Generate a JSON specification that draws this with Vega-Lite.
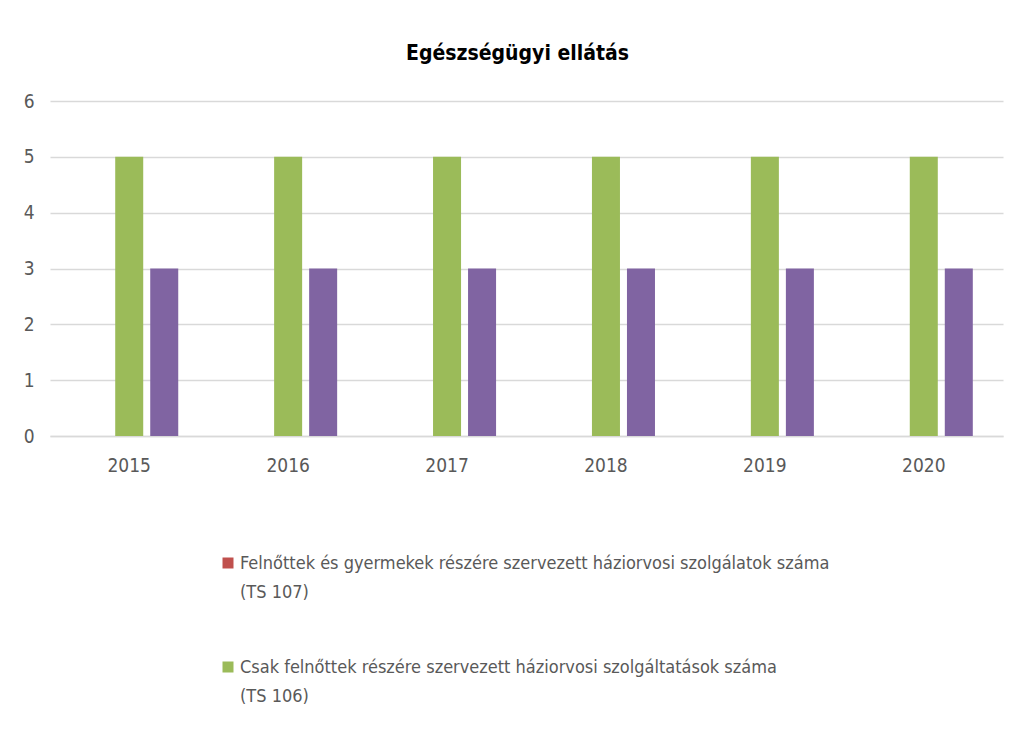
{
  "$schema": "https://vega.github.io/schema/vega-lite/v6.json",
  "autosize": {"type": "none"},
  "width": 953,
  "height": 335,
  "padding": {"left": 50, "top": 101, "right": 16, "bottom": 320},
  "background": "white",
  "title": {
    "text": "Egészségügyi ellátás",
    "font": "DejaVu Sans Condensed, Liberation Sans Narrow, sans-serif",
    "fontSize": 21,
    "fontWeight": "bold",
    "color": "#000000",
    "anchor": "middle",
    "offset": 28,
    "dx": -9
  },
  "data": {
    "values": [
      {"ev": "2015", "sorozat": "Felnőttek és gyermekek részére szervezett háziorvosi szolgálatok száma (TS 107)", "ertek": 0},
      {"ev": "2015", "sorozat": "Csak felnőttek részére szervezett háziorvosi szolgáltatások száma (TS 106)", "ertek": 5},
      {"ev": "2015", "sorozat": "Házi gyermekorvosi szolgálatok száma (TS 108)", "ertek": 3},
      {"ev": "2016", "sorozat": "Felnőttek és gyermekek részére szervezett háziorvosi szolgálatok száma (TS 107)", "ertek": 0},
      {"ev": "2016", "sorozat": "Csak felnőttek részére szervezett háziorvosi szolgáltatások száma (TS 106)", "ertek": 5},
      {"ev": "2016", "sorozat": "Házi gyermekorvosi szolgálatok száma (TS 108)", "ertek": 3},
      {"ev": "2017", "sorozat": "Felnőttek és gyermekek részére szervezett háziorvosi szolgálatok száma (TS 107)", "ertek": 0},
      {"ev": "2017", "sorozat": "Csak felnőttek részére szervezett háziorvosi szolgáltatások száma (TS 106)", "ertek": 5},
      {"ev": "2017", "sorozat": "Házi gyermekorvosi szolgálatok száma (TS 108)", "ertek": 3},
      {"ev": "2018", "sorozat": "Felnőttek és gyermekek részére szervezett háziorvosi szolgálatok száma (TS 107)", "ertek": 0},
      {"ev": "2018", "sorozat": "Csak felnőttek részére szervezett háziorvosi szolgáltatások száma (TS 106)", "ertek": 5},
      {"ev": "2018", "sorozat": "Házi gyermekorvosi szolgálatok száma (TS 108)", "ertek": 3},
      {"ev": "2019", "sorozat": "Felnőttek és gyermekek részére szervezett háziorvosi szolgálatok száma (TS 107)", "ertek": 0},
      {"ev": "2019", "sorozat": "Csak felnőttek részére szervezett háziorvosi szolgáltatások száma (TS 106)", "ertek": 5},
      {"ev": "2019", "sorozat": "Házi gyermekorvosi szolgálatok száma (TS 108)", "ertek": 3},
      {"ev": "2020", "sorozat": "Felnőttek és gyermekek részére szervezett háziorvosi szolgálatok száma (TS 107)", "ertek": 0},
      {"ev": "2020", "sorozat": "Csak felnőttek részére szervezett háziorvosi szolgáltatások száma (TS 106)", "ertek": 5},
      {"ev": "2020", "sorozat": "Házi gyermekorvosi szolgálatok száma (TS 108)", "ertek": 3}
    ]
  },
  "mark": {"type": "bar"},
  "encoding": {
    "x": {
      "field": "ev",
      "type": "nominal",
      "scale": {"paddingInner": 0.383, "paddingOuter": 0.19},
      "axis": {
        "title": null,
        "labelAngle": 0,
        "ticks": false,
        "domainColor": "#d9d9d9",
        "domainWidth": 1.5,
        "labelFont": "DejaVu Sans Condensed, Liberation Sans Narrow, sans-serif",
        "labelFontSize": 19,
        "labelColor": "#595959",
        "labelPadding": 20
      }
    },
    "xOffset": {
      "field": "sorozat",
      "type": "nominal",
      "sort": [
        "Felnőttek és gyermekek részére szervezett háziorvosi szolgálatok száma (TS 107)",
        "Csak felnőttek részére szervezett háziorvosi szolgáltatások száma (TS 106)",
        "Házi gyermekorvosi szolgálatok száma (TS 108)"
      ],
      "scale": {"paddingInner": 0.2, "paddingOuter": 0}
    },
    "y": {
      "field": "ertek",
      "type": "quantitative",
      "scale": {"domain": [0, 6]},
      "axis": {
        "title": null,
        "values": [0, 1, 2, 3, 4, 5, 6],
        "labelOverlap": false,
        "ticks": false,
        "domain": false,
        "gridColor": "#d9d9d9",
        "gridWidth": 1.5,
        "labelFont": "DejaVu Sans Condensed, Liberation Sans Narrow, sans-serif",
        "labelFontSize": 19,
        "labelColor": "#595959",
        "labelPadding": 16
      }
    },
    "color": {
      "field": "sorozat",
      "type": "nominal",
      "sort": [
        "Felnőttek és gyermekek részére szervezett háziorvosi szolgálatok száma (TS 107)",
        "Csak felnőttek részére szervezett háziorvosi szolgáltatások száma (TS 106)",
        "Házi gyermekorvosi szolgálatok száma (TS 108)"
      ],
      "scale": {
        "domain": [
          "Felnőttek és gyermekek részére szervezett háziorvosi szolgálatok száma (TS 107)",
          "Csak felnőttek részére szervezett háziorvosi szolgáltatások száma (TS 106)",
          "Házi gyermekorvosi szolgálatok száma (TS 108)"
        ],
        "range": ["#c0504d", "#9bbb59", "#8064a2"]
      },
      "legend": {
        "title": null,
        "orient": "none",
        "legendX": 169,
        "legendY": 453,
        "direction": "vertical",
        "values": [
          "Felnőttek és gyermekek részére szervezett háziorvosi szolgálatok száma (TS 107)",
          "Csak felnőttek részére szervezett háziorvosi szolgáltatások száma (TS 106)"
        ],
        "symbolType": "square",
        "symbolSize": 121,
        "symbolStrokeWidth": 0,
        "labelExpr": "[substring(datum.label, 0, indexof(datum.label, ' (TS')), substring(datum.label, indexof(datum.label, '(TS'))]",
        "labelFont": "DejaVu Sans Condensed, Liberation Sans Narrow, sans-serif",
        "labelFontSize": 18,
        "labelColor": "#595959",
        "labelLimit": 800,
        "labelOffset": 3,
        "labelBaseline": "top",
        "rowPadding": 56,
        "encode": {"labels": {"update": {"dy": {"value": -8}, "lineHeight": {"value": 29}}}}
      }
    }
  },
  "config": {
    "view": {"stroke": null},
    "axis": {"gridColor": "#d9d9d9"}
  }
}
